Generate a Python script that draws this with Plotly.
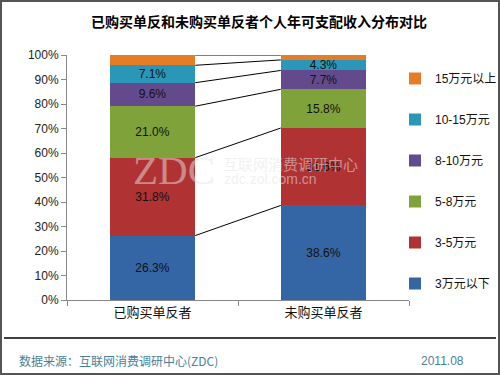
import plotly.graph_objects as go
import numpy as np

categories = ["已购买单反者", "未购买单反者"]
series_names = ["3万元以下", "3-5万元", "5-8万元", "8-10万元", "10-15万元", "15万元以上"]
bought = [26.3, 31.8, 21.0, 9.6, 7.1, 4.2]
not_bought = [38.6, 31.6, 15.8, 7.7, 4.3, 2.0]
colors = ["#3465a4", "#b03232", "#7fa33a", "#634a8c", "#2b97b8", "#e57d26"]
y_ticks = [0, 10, 20, 30, 40, 50, 60, 70, 80, 90, 100]
y_tick_labels = [f"{t}%" for t in y_ticks]
title = "已购买单反和未购买单反者个人年可支配收入分布对比"
source = "数据来源：互联网消费调研中心(ZDC)"
date = "2011.08"

W, H = 500, 375
ML, MR, MT, MB = 67, 91, 55, 75
PW, PH = W - ML - MR, H - MT - MB

def px(x):
    return (x - ML) / PW

def py(y):
    return (H - MB - y) / PH

FONT = "Liberation Sans, Arial, Noto Sans CJK SC, sans-serif"

fig = go.Figure()
n = len(series_names)
for i, name in enumerate(series_names):
    vals = [bought[i], not_bought[i]]
    texts = [f"{v:.1f}%" if i < n - 1 else "" for v in vals]
    fig.add_trace(go.Bar(
        x=categories, y=vals, name=name, legendgroup=name, legendrank=n - i,
        marker=dict(color=colors[i], line=dict(width=0)),
        text=texts, textposition="inside", insidetextanchor="middle",
        textfont=dict(color="#111111", size=12, family=FONT),
        hoverinfo="skip",
    ))

# connector lines between segment tops
cb = np.cumsum(bought)
cn = np.cumsum(not_bought)
half = 0.25
for a, b in zip(cb, cn):
    fig.add_shape(type="line", xref="x", yref="y",
                  x0=0 + half, y0=min(a, 100), x1=1 - half, y1=min(b, 100),
                  line=dict(color="black", width=1))

# outer border
fig.add_shape(type="rect", xref="paper", yref="paper",
              x0=px(1), y0=py(1), x1=px(W - 1), y1=py(H - 1),
              line=dict(color="#555555", width=2), layer="above")
# footer separator
fig.add_shape(type="line", xref="paper", yref="paper",
              x0=px(4), y0=py(338), x1=px(496), y1=py(338),
              line=dict(color="black", width=1.5))

annotations = [
    dict(text=f"<b>{title}</b>", x=px(259), y=py(21), xref="paper", yref="paper",
         showarrow=False, font=dict(size=14, color="black", family="Noto Sans CJK SC"),
         xanchor="center", yanchor="middle"),
    dict(text=source, x=px(17), y=py(361), xref="paper", yref="paper",
         showarrow=False, font=dict(size=12, color="#4a7f99", family="Noto Sans CJK SC"),
         xanchor="left", yanchor="middle"),
    dict(text=date, x=px(466), y=py(361), xref="paper", yref="paper",
         showarrow=False, font=dict(size=12, color="#4a7f99", family=FONT),
         xanchor="right", yanchor="middle"),
    # watermark
    dict(text="ZDC", x=px(131), y=py(170), xref="paper", yref="paper",
         showarrow=False, font=dict(size=41, color="rgba(228,228,228,0.5)", family="Liberation Serif, serif"),
         xanchor="left", yanchor="middle"),
    dict(text="互联网消费调研中心", x=px(221), y=py(163), xref="paper", yref="paper",
         showarrow=False, font=dict(size=15, color="rgba(228,228,228,0.55)", family="Noto Sans CJK SC"),
         xanchor="left", yanchor="middle"),
    dict(text="zdc.zol.com.cn", x=px(222), y=py(179), xref="paper", yref="paper",
         showarrow=False, font=dict(size=14, color="rgba(228,228,228,0.55)", family=FONT),
         xanchor="left", yanchor="middle"),
]

fig.update_layout(
    width=W, height=H,
    margin=dict(l=ML, r=MR, t=MT, b=MB, autoexpand=False),
    paper_bgcolor="white", plot_bgcolor="white",
    barmode="stack", bargap=0.5,
    uniformtext=dict(minsize=12, mode="show"),
    showlegend=True,
    legend=dict(xref="container", yref="container", x=395 / W, y=1 - 64 / H,
                xanchor="left", yanchor="top",
                traceorder="grouped", tracegroupgap=22, maxheight=1,
                font=dict(size=12, color="#111111", family=FONT),
                itemwidth=30, bgcolor="rgba(0,0,0,0)"),
    annotations=annotations,
    xaxis=dict(showline=True, linecolor="#888888", linewidth=1,
               ticks="outside", tickson="boundaries", ticklen=5, tickcolor="#888888",
               tickfont=dict(size=13, color="#111111", family="Noto Sans CJK SC"),
               showgrid=False, fixedrange=True),
    yaxis=dict(range=[0, 100], tickvals=y_ticks, ticktext=y_tick_labels,
               showline=True, linecolor="#888888", linewidth=1,
               ticks="outside", ticklen=5, tickcolor="#888888",
               tickfont=dict(size=12, color="#222222", family=FONT),
               showgrid=False, zeroline=False, fixedrange=True),
    font=dict(family=FONT),
)

fig.write_html("out.html", config={"displayModeBar": False},
               post_script="document.body.style.margin='0';document.body.style.overflow='hidden';")
